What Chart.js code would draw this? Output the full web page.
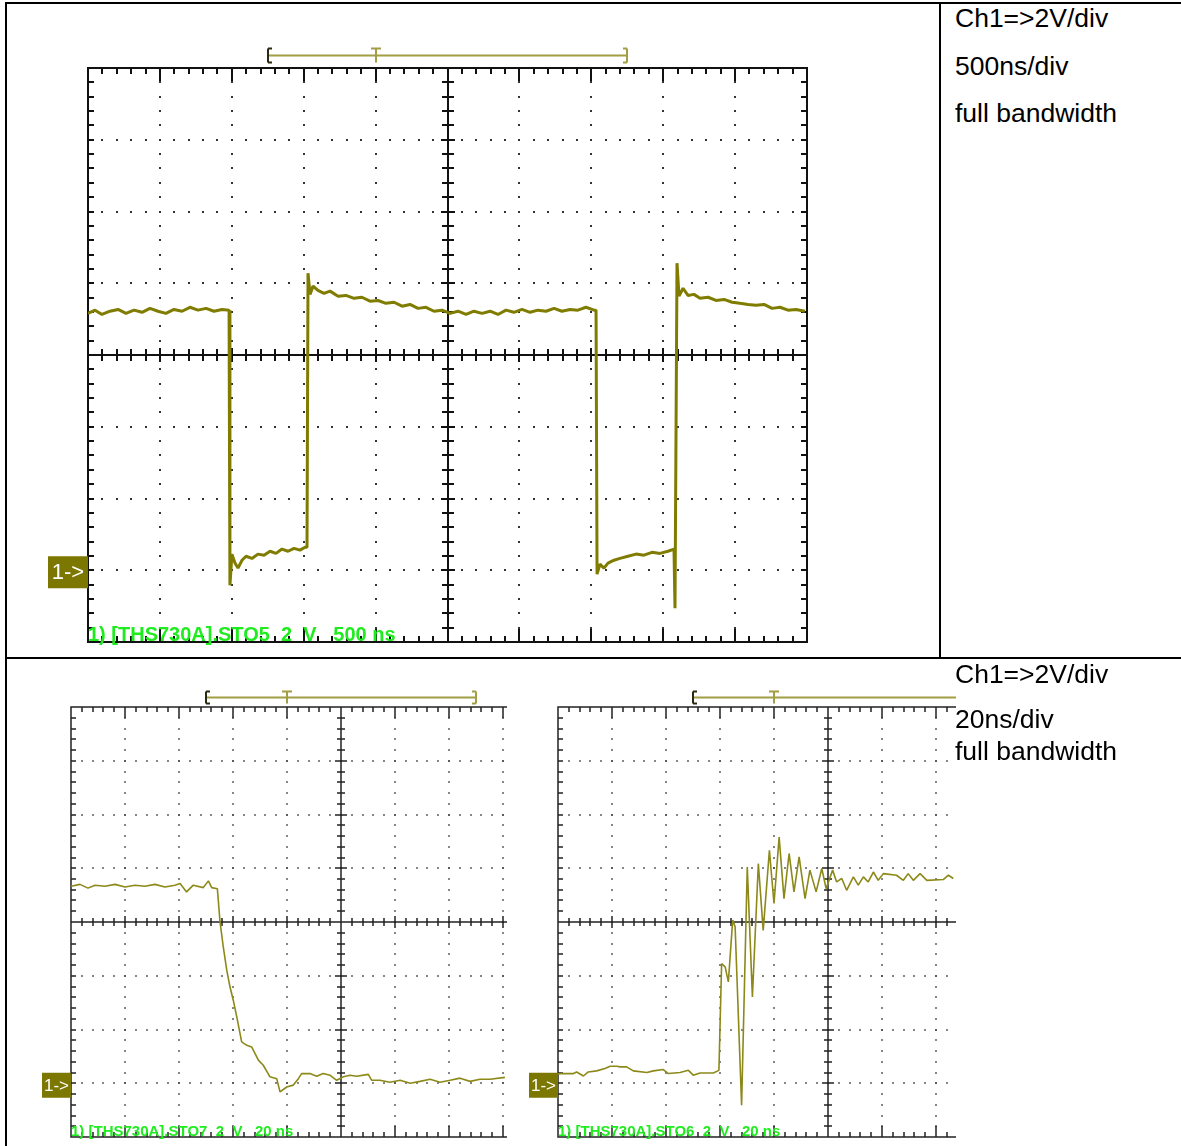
<!DOCTYPE html>
<html>
<head>
<meta charset="utf-8">
<script src="https://cdn.jsdelivr.net/npm/chart.js@4.4.0/dist/chart.umd.min.js"></script>
<style>
  body { margin: 0; background: #fff; width: 1181px; height: 1146px; position: relative; overflow: hidden;
         font-family: "Liberation Sans", Arial, sans-serif; }
  .ln { position: absolute; background: #000; }
  .clip { position: absolute; overflow: hidden; }
  .clip canvas { position: absolute; left: 0; top: 0; }
  .note { position: absolute; left: 955px; font-size: 26.5px; line-height: 30px; color: #000; white-space: nowrap; }
</style>
</head>
<body>

<!-- table rules -->
<div class="ln" style="left:5px;top:2px;width:1176px;height:2px"></div>
<div class="ln" style="left:5px;top:2px;width:2px;height:1144px"></div>
<div class="ln" style="left:939px;top:2px;width:2px;height:656px"></div>
<div class="ln" style="left:5px;top:657px;width:1176px;height:2px"></div>

<div class="clip" style="left:40px;top:40px;width:780px;height:612px"><canvas id="wideCap" width="780" height="612"></canvas></div>
<div class="clip" style="left:30px;top:680px;width:477px;height:466px"><canvas id="fallCap" width="600" height="466"></canvas></div>
<div class="clip" style="left:517px;top:680px;width:439px;height:466px"><canvas id="riseCap" width="600" height="466"></canvas></div>

<div class="note" style="top:3px">Ch1=&gt;2V/div</div>
<div class="note" style="top:51px">500ns/div</div>
<div class="note" style="top:98px">full bandwidth</div>
<div class="note" style="top:659px">Ch1=&gt;2V/div</div>
<div class="note" style="top:704px">20ns/div</div>
<div class="note" style="top:736px">full bandwidth</div>

<script>
// screen: 8 vertical divisions at 2 V/div, ground marker at 0 V
const voltTicks = [-2, 0, 2, 4, 6, 8, 10, 12, 14];

// top capture, 500 ns/div (time in ns)
const wideTimes = [
  0, 49, 97, 153, 209, 264, 320, 376, 431, 487, 542, 598, 654, 709, 765, 821, 876, 932, 981,
  987, 1001, 1022, 1043, 1071, 1099, 1140, 1182, 1224, 1266, 1307, 1349, 1391, 1433, 1474, 1509, 1523,
  1530, 1544, 1565, 1599, 1641, 1683, 1739, 1794, 1850, 1905, 1961, 2017, 2072, 2128, 2184, 2239, 2295, 2350, 2406, 2462,
  2517, 2573, 2629, 2684, 2740, 2796, 2851, 2907, 2962, 3018, 3074, 3129, 3185, 3241, 3296, 3352, 3407, 3463, 3519, 3533,
  3540, 3560, 3588, 3616, 3658, 3699, 3755, 3811, 3866, 3922, 3978, 4033, 4075,
  4082, 4096, 4110, 4138, 4172, 4214, 4256, 4312, 4367, 4423, 4479, 4534, 4590, 4645, 4701, 4757, 4812, 4868, 4923, 4986
];
const wideVolts = [
  7.16, 7.25, 7.13, 7.22, 7.27, 7.16, 7.25, 7.19, 7.30, 7.22, 7.16, 7.27, 7.22, 7.33, 7.25, 7.30, 7.22, 7.27, 7.25,
  -0.42, 0.45, 0.20, 0.06, 0.28, 0.39, 0.33, 0.45, 0.42, 0.53, 0.47, 0.59, 0.53, 0.61, 0.56, 0.64, 0.64,
  8.28, 7.69, 7.92, 7.80, 7.72, 7.78, 7.64, 7.66, 7.58, 7.61, 7.50, 7.52, 7.44, 7.47, 7.36, 7.41, 7.30, 7.33, 7.22, 7.25,
  7.16, 7.22, 7.13, 7.22, 7.16, 7.22, 7.13, 7.25, 7.19, 7.27, 7.19, 7.25, 7.22, 7.30, 7.22, 7.27, 7.25, 7.33, 7.25, 7.25,
  -0.11, 0.17, 0.06, 0.20, 0.28, 0.33, 0.39, 0.45, 0.42, 0.50, 0.47, 0.53, 0.59,
  -1.06, 8.56, 7.64, 7.86, 7.66, 7.69, 7.58, 7.61, 7.52, 7.55, 7.47, 7.44, 7.41, 7.39, 7.41, 7.30, 7.33, 7.25, 7.27, 7.22
];

// bottom left, falling edge, 20 ns/div
const fallTimes = [
  0, 3.3, 6.3, 8.9, 12.6, 16.3, 20.0, 23.7, 27.4, 31.1, 34.8, 38.5,
  40.4, 42.8, 45.3, 49.0, 50.9, 52.1, 54.2,
  55.2, 56.4, 57.7, 58.9, 60.1, 61.4, 63.2, 65.1, 66.9, 69.4, 71.2, 73.7, 76.2, 77.4, 79.9,
  82.3, 84.2, 85.4, 88.5, 91.0, 93.4, 95.9, 98.4, 100.9, 103.3, 105.8, 110.1, 111.4, 114.4,
  118.1, 121.9, 125.6, 129.3, 133.0, 136.7, 140.4, 144.1, 147.8, 151.5, 155.2, 160.7
];
const fallVolts = [
  7.33, 7.40, 7.26, 7.37, 7.33, 7.40, 7.30, 7.37, 7.33, 7.40, 7.30, 7.37,
  7.43, 7.12, 7.37, 7.28, 7.53, 7.28, 7.24,
  6.00, 5.07, 4.20, 3.58, 3.09, 2.47, 1.54, 1.41, 1.35, 0.86, 0.67, 0.24, 0.17, -0.32, -0.14,
  -0.07, 0.17, 0.36, 0.36, 0.26, 0.36, 0.30, 0.11, 0.24, 0.30, 0.26, 0.33, 0.11, 0.11,
  0.04, 0.11, 0.00, 0.07, 0.15, 0.04, 0.11, 0.19, 0.07, 0.15, 0.15, 0.22
];

// bottom right, rising edge with ringing, 20 ns/div
const riseTimes = [
  0, 2.0, 5.7, 6.9, 9.4, 11.2, 14.3, 17.4, 19.3, 21.7, 23.0, 25.4, 27.9, 32.9, 35.3, 39.0, 40.9, 45.2, 48.3, 50.1, 52.6, 57.5, 59.6,
  60.6, 61.9, 63.1, 64.7, 65.6, 68.0, 70.1, 72.0, 74.2, 76.0, 78.3, 80.0, 81.9, 83.7, 85.6, 87.4, 89.3, 91.5, 93.3, 95.6,
  97.7, 99.3, 101.7, 103.2, 105.1, 106.9, 109.4, 111.2, 113.1, 114.9, 116.8, 118.6, 120.5, 125.4, 127.9, 129.7, 131.6,
  134.1, 136.6, 142.7, 144.6, 146.4
];
const riseVolts = [
  0.35, 0.36, 0.36, 0.42, 0.27, 0.42, 0.46, 0.55, 0.63, 0.63, 0.61, 0.61, 0.46, 0.40, 0.46, 0.51, 0.36, 0.40, 0.48, 0.30, 0.38, 0.38, 0.48,
  4.45, 4.33, 3.77, 6.07, 5.82, -0.82, 8.05, 3.21, 8.17, 5.69, 8.67, 6.69, 9.16, 6.87, 8.55, 7.12, 8.42, 6.87, 7.93, 7.12,
  7.99, 7.24, 7.93, 7.49, 7.62, 7.18, 7.68, 7.37, 7.68, 7.49, 7.86, 7.55, 7.80, 7.74, 7.55, 7.80, 7.55,
  7.80, 7.55, 7.58, 7.74, 7.62
];

// acquisition window bar above each screen, in divisions
const triggerWindow = [2.5, 7.5];
const triggerPoint = 4;

const scopeGrid = {
  id: 'scopeGrid',
  beforeDatasetsDraw(chart, args, o) {
    const { ctx, chartArea: a, scales: { x, y } } = chart;
    const sub = 5, nx = 10 * sub, ny = 8 * sub;
    const xs = [], ys = [];
    for (let i = 0; i <= nx; i++) xs.push(Math.round(x.getPixelForValue(x.min + i * (x.max - x.min) / nx)));
    for (let j = 0; j <= ny; j++) ys.push(Math.round(y.getPixelForValue(y.max - j * (y.max - y.min) / ny)));
    ctx.save();

    // dotted graticule
    ctx.fillStyle = o.dotColor;
    const d = o.dot;
    for (let i = sub; i < nx; i += sub) {
      if (i === nx / 2) continue;
      for (let j = 1; j < ny; j++) ctx.fillRect(xs[i] - d / 2, ys[j] - d / 2, d, d);
    }
    for (let j = sub; j < ny; j += sub) {
      if (j === ny / 2) continue;
      for (let i = 1; i < nx; i++) ctx.fillRect(xs[i] - d / 2, ys[j] - d / 2, d, d);
    }

    // centre axes, frame and ticks
    ctx.strokeStyle = o.lineColor;
    ctx.lineWidth = o.lineWidth;
    const cx = xs[nx / 2], cy = ys[ny / 2];
    ctx.beginPath();
    ctx.moveTo(a.left, cy); ctx.lineTo(a.right, cy);
    ctx.moveTo(cx, a.top); ctx.lineTo(cx, a.bottom);
    for (let i = 1; i < nx; i++) {
      const t = i % sub ? o.axisTick : o.axisTickMajor;
      ctx.moveTo(xs[i], cy - t); ctx.lineTo(xs[i], cy + t);
      const e = i % sub ? o.edgeTick : o.edgeTickMajor;
      ctx.moveTo(xs[i], a.top); ctx.lineTo(xs[i], a.top + e);
      ctx.moveTo(xs[i], a.bottom); ctx.lineTo(xs[i], a.bottom - e);
    }
    for (let j = 1; j < ny; j++) {
      const t = j % sub ? o.axisTick : o.axisTickMajor;
      ctx.moveTo(cx - t, ys[j]); ctx.lineTo(cx + t, ys[j]);
      ctx.moveTo(a.left, ys[j]); ctx.lineTo(a.left + o.edgeTick, ys[j]);
      ctx.moveTo(a.right, ys[j]); ctx.lineTo(a.right - o.edgeTick, ys[j]);
    }
    ctx.rect(xs[0], ys[0], xs[nx] - xs[0], ys[ny] - ys[0]);
    ctx.stroke();
    ctx.restore();
  },
  afterDraw(chart, args, o) {
    const { ctx, chartArea: a, scales: { x, y } } = chart;
    const divX = (x.max - x.min) / 10;
    ctx.save();

    // trigger window bar
    const by = Math.round(a.top - o.barGap) + 0.5;
    const bl = Math.round(x.getPixelForValue(triggerWindow[0] * divX));
    const br = Math.round(x.getPixelForValue(triggerWindow[1] * divX));
    const bt = Math.round(x.getPixelForValue(triggerPoint * divX));
    const h = o.barHalf;
    ctx.lineWidth = 2;
    ctx.strokeStyle = '#a29e44';
    ctx.beginPath();
    ctx.moveTo(bl, by); ctx.lineTo(br, by);
    ctx.moveTo(bt, by - h); ctx.lineTo(bt, by + h);
    ctx.moveTo(bt - 5, by - h); ctx.lineTo(bt + 5, by - h);
    ctx.moveTo(br, by - h); ctx.lineTo(br, by + h);
    ctx.moveTo(br - 4, by - h); ctx.lineTo(br, by - h);
    ctx.moveTo(br - 4, by + h); ctx.lineTo(br, by + h);
    ctx.stroke();
    ctx.strokeStyle = '#2a2a10';
    ctx.beginPath();
    ctx.moveTo(bl, by - h); ctx.lineTo(bl, by + h);
    ctx.moveTo(bl, by - h); ctx.lineTo(bl + 4, by - h);
    ctx.moveTo(bl, by + h); ctx.lineTo(bl + 4, by + h);
    ctx.stroke();

    // ground marker
    const gy = y.getPixelForValue(0);
    ctx.fillStyle = '#7b7700';
    ctx.fillRect(a.left - o.markW, gy - o.markH / 2 + 2, o.markW, o.markH);
    ctx.fillStyle = '#ffffff';
    ctx.font = o.markFont + 'px "Liberation Sans", Arial, sans-serif';
    ctx.textAlign = 'center';
    ctx.textBaseline = 'middle';
    ctx.fillText('1->', a.left - o.markW / 2, gy + 3);

    // capture caption
    ctx.fillStyle = '#1fec1f';
    ctx.font = 'bold ' + o.capFont + 'px "Liberation Sans", Arial, sans-serif';
    ctx.textAlign = 'left';
    ctx.textBaseline = 'alphabetic';
    ctx.fillText(o.caption, a.left, a.bottom - 1);
    ctx.restore();
  }
};

function scopeChart(id, times, volts, span, look) {
  const points = times.map((t, i) => ({ x: t, y: volts[i] }));
  return new Chart(document.getElementById(id), {
    type: 'line',
    data: {
      datasets: [{
        data: points,
        borderColor: look.trace,
        borderWidth: look.traceWidth,
        borderJoinStyle: 'bevel',
        pointRadius: 0,
        tension: 0,
        fill: false
      }]
    },
    options: {
      responsive: false,
      animation: false,
      events: [],
      layout: { padding: look.pad },
      plugins: {
        legend: { display: false },
        tooltip: { enabled: false },
        scopeGrid: look.grid
      },
      scales: {
        x: { type: 'linear', min: 0, max: span, display: false },
        y: { min: voltTicks[0], max: voltTicks[voltTicks.length - 1], display: false }
      }
    },
    plugins: [scopeGrid]
  });
}

scopeChart('wideCap', wideTimes, wideVolts, 5000, {
  trace: '#7f7c00', traceWidth: 3,
  pad: { left: 48, top: 28, right: 13, bottom: 10 },
  grid: {
    dotColor: '#333', dot: 2, lineColor: '#111', lineWidth: 2,
    axisTick: 6, axisTickMajor: 7, edgeTick: 6, edgeTickMajor: 13,
    barGap: 13, barHalf: 7, markW: 40, markH: 32, markFont: 22,
    capFont: 20, caption: '1) [THS730A].STO5  2  V   500 ns'
  }
});

const smallGrid = {
  dotColor: '#444', dot: 1.6, lineColor: '#222', lineWidth: 1.5,
  axisTick: 4, axisTickMajor: 6, edgeTick: 5, edgeTickMajor: 11,
  barGap: 10, barHalf: 6, markW: 29, markH: 25, markFont: 17, capFont: 15
};

scopeChart('fallCap', fallTimes, fallVolts, 200, {
  trace: '#8c8918', traceWidth: 1.6,
  pad: { left: 41, top: 27, right: 19, bottom: 9 },
  grid: Object.assign({}, smallGrid, { caption: '1) [THS730A].STO7  2  V   20 ns' })
});

scopeChart('riseCap', riseTimes, riseVolts, 200, {
  trace: '#8c8918', traceWidth: 1.6,
  pad: { left: 41, top: 27, right: 19, bottom: 9 },
  grid: Object.assign({}, smallGrid, { caption: '1) [THS730A].STO6  2  V   20 ns' })
});
</script>
</body>
</html>
